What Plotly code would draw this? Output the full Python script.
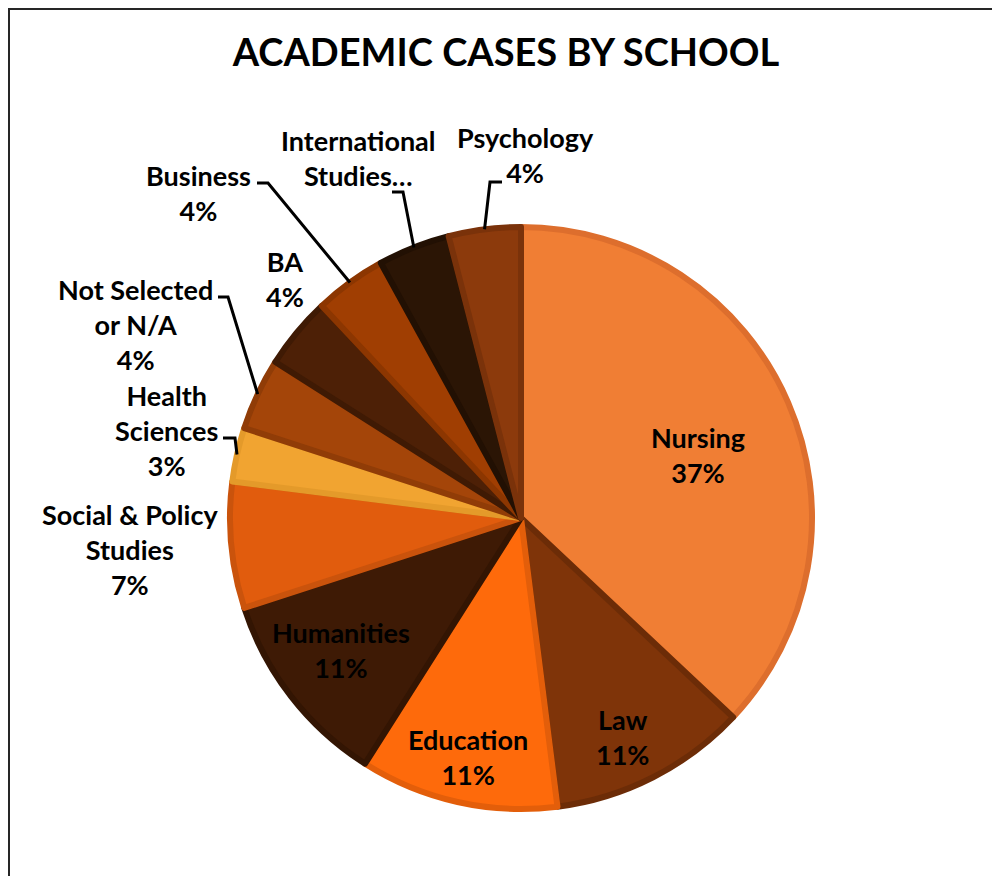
import math
import plotly.graph_objects as go

# ---------------- data ----------------
schools = ["Nursing", "Law", "Education", "Humanities", "Social & Policy Studies",
           "Health Sciences", "Not Selected or N/A", "BA", "Business",
           "International Studies", "Psychology"]
share_pct = [37, 11, 11, 11, 7, 3, 4, 4, 4, 4, 4]
label_lines = ["Nursing", "Law", "Education", "Humanities", "Social & Policy<br>Studies",
               "Health<br>Sciences", "Not Selected<br>or N/A", "BA", "Business",
               "International<br>Studies…", "Psychology"]
show_pct = [True, True, True, True, True, True, True, True, True, False, True]
title_text = "ACADEMIC CASES BY SCHOOL"

# ---------------- style ----------------
W, H = 1000, 876
OFF = 8  # page body margin in the browser
fill_colors = ["#F07E34", "#7F3409", "#FE6A0B", "#3E1A05", "#E15C0D", "#F1A431",
               "#A44509", "#4D2006", "#A03E02", "#2B1505", "#8C3A0C"]
edge_colors = ["#DD6E2D", "#6C2C07", "#E35E0A", "#331503", "#CA530C", "#E49A2A",
               "#903C07", "#3F1A04", "#8C3601", "#221003", "#7A320A"]
CX, CY, R = 521, 518, 291  # pie centre / radius in screen pixels
FONT = "Lato"

# label centre positions (screen pixels) and leader-line elbows
label_pos = [(698, 455), (622, 737), (468, 757), (341, 650), (130, 549),
             (166, 430), (135, 324), (285, 279), (198, 193), (358, 158), (525, 155)]
leader_from = [None, None, None, None, None,
               [(223, 438), (235, 438)], [(218, 297), (228, 297)], None,
               [(257, 183), (268, 183)], [(392, 192), (403, 192)],
               [(502, 182), (490, 182)]]


def px(x):
    return (x - OFF) / W


def py(y):
    return 1 - (y - OFF) / H


fig = go.Figure(go.Pie(
    labels=schools, values=share_pct, sort=False, direction="clockwise", rotation=0,
    textinfo="none", hoverinfo="label+percent",
    marker=dict(colors=fill_colors, line=dict(color=edge_colors, width=6)),
    domain=dict(x=[px(CX - R), px(CX + R)], y=[py(CY + R), py(CY - R)]),
    showlegend=False,
))

total = sum(share_pct)
annotations = []
shapes = []
cum = 0
for i, name in enumerate(schools):
    v = share_pct[i]
    mid = (cum + v / 2) / total * 360
    cum += v
    pct = round(v / total * 100)
    txt = label_lines[i] + (f"<br>{pct}%" if show_pct[i] else "")
    lx, ly = label_pos[i]
    annotations.append(dict(
        x=px(lx), y=py(ly), xref="paper", yref="paper", text=f"<b>{txt}</b>",
        showarrow=False, xanchor="center", yanchor="middle", align="center",
        font=dict(family=FONT, size=27, color="#000000"),
    ))
    if leader_from[i]:
        ex = CX + R * math.sin(math.radians(mid))
        ey = CY - R * math.cos(math.radians(mid))
        pts = leader_from[i] + [(ex, ey)]
        path = "M " + " L ".join(f"{px(a):.5f},{py(b):.5f}" for a, b in pts)
        shapes.append(dict(type="path", xref="paper", yref="paper", path=path,
                           line=dict(color="#000000", width=3)))

# chart frame
shapes.append(dict(type="rect", xref="paper", yref="paper",
                   x0=px(9), y0=py(H + 30), x1=px(W + 30), y1=py(9),
                   line=dict(color="#262626", width=2), layer="above"))

fig.update_layout(
    width=W, height=H, margin=dict(l=0, r=0, t=0, b=0),
    paper_bgcolor="white", plot_bgcolor="white",
    title=dict(text=f"<b>{title_text}</b>", x=px(506), y=py(53),
               xanchor="center", yanchor="middle",
               font=dict(family=FONT, size=38, color="#000000")),
    annotations=annotations, shapes=shapes,
)

fig.write_html("out.html")
